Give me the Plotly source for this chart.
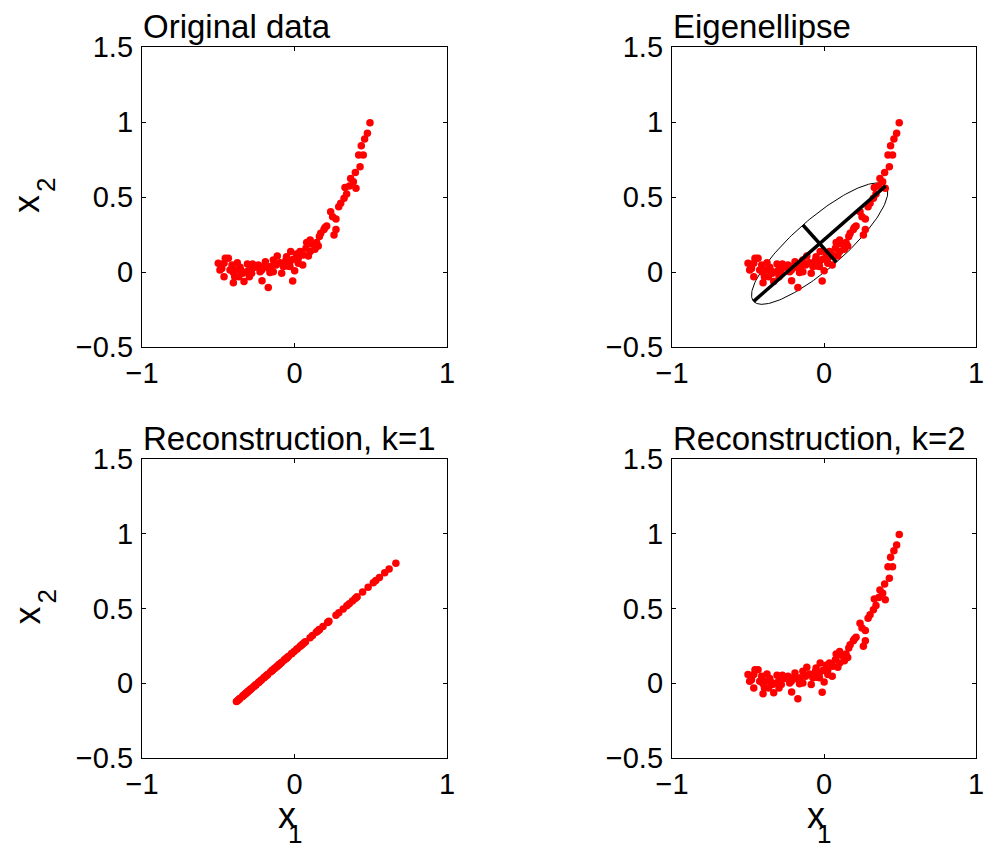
import numpy as np
import plotly.graph_objects as go

# Observed samples (x1, x2)
x1_data = [0.495, 0.478, 0.460, 0.438, 0.421, 0.451, 0.430, 0.399, 0.368, 0.386,
           0.331, 0.360, 0.403, 0.342, 0.325, 0.303, 0.290, 0.237, 0.250, 0.272,
           0.211, 0.193, 0.272, 0.172, 0.163, 0.259, 0.080, 0.113, 0.156, 0.134,
           0.103, 0.075, 0.036, 0.058, 0.091, 0.014, -0.025, 0.025, 0.054, -0.008,
           -0.030, -0.056, -0.047, -0.073, -0.095, -0.113, -0.121, -0.084, 0.001, -0.012,
           -0.139, -0.161, -0.156, -0.191, -0.200, -0.215, -0.213, -0.172, -0.237, -0.259,
           -0.281, -0.274, -0.309, -0.296, -0.296, -0.331, -0.340, -0.357, -0.375, -0.384,
           -0.392, -0.401, -0.410, -0.423, -0.434, -0.454, -0.462, -0.462, -0.477, -0.500,
           -0.489, -0.365, -0.314, -0.401, -0.030, 0.025, -0.052, -0.139, 0.145, 0.200,
           0.103, -0.172, -0.226, -0.353]
x2_data = [0.995, 0.925, 0.887, 0.842, 0.780, 0.780, 0.702, 0.664, 0.624, 0.602,
           0.564, 0.573, 0.558, 0.520, 0.491, 0.458, 0.435, 0.402, 0.369, 0.353,
           0.307, 0.284, 0.284, 0.258, 0.236, 0.247, 0.196, 0.187, 0.173, 0.151,
           0.136, 0.158, 0.136, 0.113, 0.107, 0.120, 0.136, 0.091, 0.047, 0.085,
           0.069, 0.080, 0.040, 0.036, 0.062, 0.107, 0.047, -0.009, 0.009, -0.060,
           0.002, -0.004, 0.036, 0.069, 0.036, 0.013, -0.058, -0.104, 0.047, 0.031,
           -0.009, 0.053, 0.053, 0.013, -0.031, -0.064, -0.009, 0.031, 0.062, 0.013,
           -0.031, -0.071, 0.047, 0.013, 0.091, 0.091, 0.058, -0.031, 0.024, 0.058,
           0.013, -0.031, 0.002, -0.004, 0.036, 0.058, 0.102, 0.080, 0.196, 0.296,
           0.213, 0.027, 0.002, 0.011]

panel_titles = ["Original data", "Eigenellipse", "Reconstruction, k=1", "Reconstruction, k=2"]
x_ticks = [-1, 0, 1]
x_tick_text = ["\u22121", "0", "1"]
y_ticks = [-0.5, 0, 0.5, 1, 1.5]
y_tick_text = ["\u22120.5", "0", "0.5", "1", "1.5"]

ELLIPSE_SCALE = 1.57  # semi-axis length in units of sqrt(eigenvalue)

# PCA of the samples
X = np.column_stack([x1_data, x2_data])
mu = X.mean(axis=0)
C = np.cov(X.T)
evals, evecs = np.linalg.eigh(C)
order = np.argsort(evals)[::-1]
evals, evecs = evals[order], evecs[:, order]

# rank-1 and rank-2 reconstructions
Z = (X - mu) @ evecs
rec1 = mu + np.outer(Z[:, 0], evecs[:, 0])
rec2 = mu + Z @ evecs.T

# eigen-ellipse outline and its axes
t = np.linspace(0, 2 * np.pi, 200)
a = ELLIPSE_SCALE * np.sqrt(evals)
ell = mu + (np.column_stack([a[0] * np.cos(t), a[1] * np.sin(t)]) @ evecs.T)
ax_major = np.array([mu - a[0] * evecs[:, 0], mu + a[0] * evecs[:, 0]])
ax_minor = np.array([mu - a[1] * evecs[:, 1], mu + a[1] * evecs[:, 1]])

W, H = 1004, 849


def px(x):
    return x / W


def py(y):
    return 1 - y / H


cols = [(142, 447), (672, 976)]
rows = [(47, 347), (459, 758)]

fig = go.Figure()
FONT = "Liberation Sans, Arial, Helvetica, sans-serif"
RED = "#ff0000"


def label(text, x, y, size, angle=0):
    fig.add_annotation(text=text, x=px(x), y=py(y), xref="paper", yref="paper",
                       xanchor="center", yanchor="middle", textangle=angle,
                       showarrow=False, font=dict(family=FONT, size=size, color="black"))


panels = [(0, 0), (0, 1), (1, 0), (1, 1)]
point_sets = [X, X, rec1, rec2]
for i, ((r, c), pts) in enumerate(zip(panels, point_sets)):
    n = i + 1
    xa = "x" if n == 1 else f"x{n}"
    ya = "y" if n == 1 else f"y{n}"
    if i == 1:
        fig.add_trace(go.Scatter(x=ell[:, 0], y=ell[:, 1], mode="lines",
                                 line=dict(color="black", width=1), xaxis=xa, yaxis=ya,
                                 showlegend=False, hoverinfo="skip"))
    fig.add_trace(go.Scatter(x=pts[:, 0], y=pts[:, 1], mode="markers",
                             marker=dict(color=RED, size=7.5, line=dict(width=0)),
                             xaxis=xa, yaxis=ya, showlegend=False))
    if i == 1:
        for seg in (ax_major, ax_minor):
            fig.add_trace(go.Scatter(x=seg[:, 0], y=seg[:, 1], mode="lines",
                                     line=dict(color="black", width=3.5), xaxis=xa, yaxis=ya,
                                     showlegend=False, hoverinfo="skip"))

    x0, x1 = cols[c]
    y0, y1 = rows[r]
    common = dict(showline=True, mirror="ticks", linecolor="black", linewidth=1.3,
                  ticks="inside", ticklen=4, tickwidth=1, tickcolor="black",
                  showgrid=False, zeroline=False, automargin=False,
                  tickfont=dict(family=FONT, size=29, color="black"), fixedrange=True)
    fig.layout[f"xaxis{'' if n == 1 else n}"] = dict(
        domain=[px(x0), px(x1)], range=[-1, 1], tickvals=x_ticks, ticktext=x_tick_text,
        anchor=ya, **common)
    fig.layout[f"yaxis{'' if n == 1 else n}"] = dict(
        domain=[py(y1), py(y0)], range=[-0.5, 1.5], tickvals=y_ticks, ticktext=y_tick_text,
        anchor=xa, ticklabelstandoff=2, **common)

    # panel title, left-aligned over the box
    fig.add_annotation(text=panel_titles[i], x=px(x0 - 1), y=py(y0), xref="paper", yref="paper",
                       xanchor="left", yanchor="bottom", showarrow=False,
                       font=dict(family=FONT, size=33, color="black"))
    # axis labels with a full-size subscript
    if c == 0:
        label("x", 27, (y0 + y1) / 2 + 7, 36, angle=-90)
        label("2", 46, (y0 + y1) / 2 - 12, 26, angle=-90)
    if r == 1:
        label("x", (x0 + x1) / 2 - 8, 815, 36)
        label("1", (x0 + x1) / 2, 834, 26)

fig.update_layout(width=W, height=H,
                  margin=dict(l=0, r=0, t=0, b=0, pad=0, autoexpand=False),
                  paper_bgcolor="white", plot_bgcolor="white")

fig.write_html("out.html")
